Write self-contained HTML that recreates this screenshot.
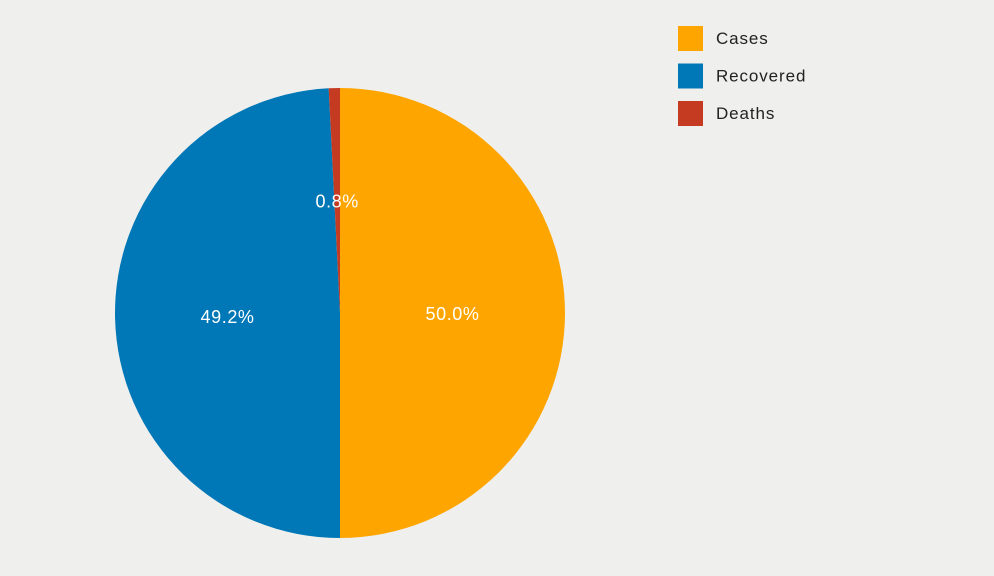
<!DOCTYPE html>
<html><head><meta charset="utf-8"><style>
html,body{margin:0;padding:0;background:#efefed;}
body{width:994px;height:571px;overflow:hidden;font-family:"Liberation Sans",sans-serif;}
</style></head><body>
<svg id="chart" width="994" height="571" xmlns="http://www.w3.org/2000/svg"></svg>
<script>
const categories = ["Cases", "Recovered", "Deaths"];
const values = [50.0, 49.2, 0.8];
const colors = ["#ffa500", "#0077b6", "#c53b22"];
const svg = document.getElementById('chart');
const NS = "http://www.w3.org/2000/svg";
const cx = 340, cy = 313, r = 225;
const total = values.reduce((a,b)=>a+b,0);
let ang = 0;
function pt(a, rad){ return [cx + rad*Math.sin(a), cy - rad*Math.cos(a)]; }
values.forEach((v,i)=>{
  const a0 = ang, a1 = ang + v/total*2*Math.PI; ang = a1;
  const [x0,y0] = pt(a0,r), [x1,y1] = pt(a1,r);
  const large = (a1-a0) > Math.PI ? 1 : 0;
  const p = document.createElementNS(NS,'path');
  p.setAttribute('d',`M${cx},${cy} L${x0},${y0} A${r},${r} 0 ${large} 1 ${x1},${y1} Z`);
  p.setAttribute('fill',colors[i]);
  
  
  svg.appendChild(p);
  const mid = (a0+a1)/2;
  const [tx,ty] = pt(mid, r*0.5);
  const t = document.createElementNS(NS,'text');
  t.setAttribute('x',tx); t.setAttribute('y',ty+7);
  t.setAttribute('text-anchor','middle'); t.setAttribute('fill','#fff');
  t.setAttribute('font-size','18'); t.setAttribute('letter-spacing','0.6');
  t.textContent = v.toFixed(1)+'%';
  
  
  svg.appendChild(t);
});
categories.forEach((c,i)=>{
  const y = 26 + i*37.5;
  const g = document.createElementNS(NS,'g');
  
  
  const rc = document.createElementNS(NS,'rect');
  rc.setAttribute('x',678); rc.setAttribute('y',y); rc.setAttribute('width',25); rc.setAttribute('height',25);
  rc.setAttribute('fill',colors[i]);
  g.appendChild(rc);
  const t = document.createElementNS(NS,'text');
  t.setAttribute('x',716); t.setAttribute('y',y+18);
  t.setAttribute('font-size','17'); t.setAttribute('fill','#222'); t.setAttribute('letter-spacing','0.9');
  t.textContent = c;
  g.appendChild(t);
  svg.appendChild(g);
});
</script>
</body></html>
